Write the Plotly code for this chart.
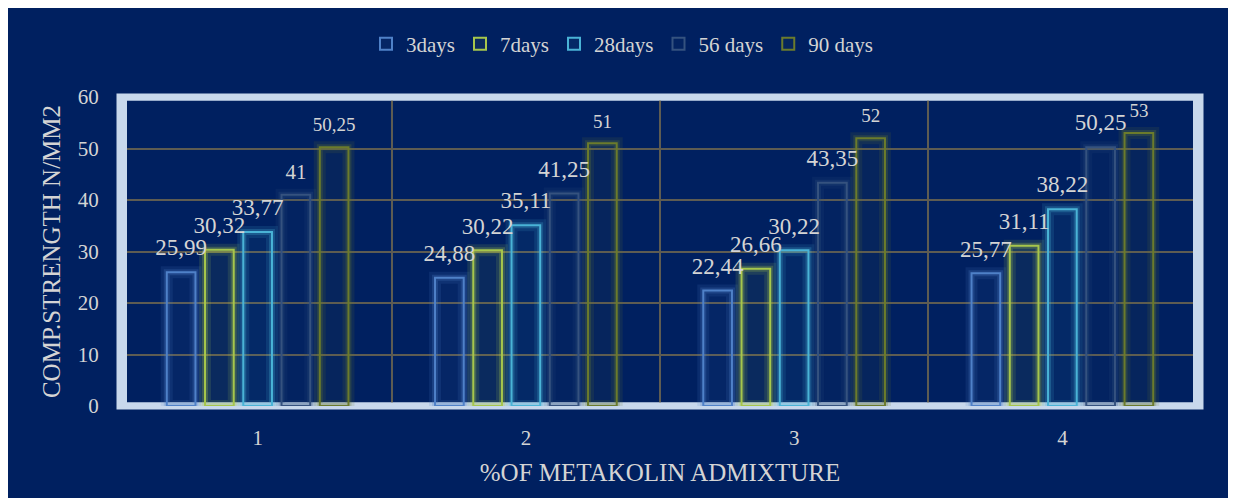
import plotly.graph_objects as go

categories = ["1", "2", "3", "4"]
series_names = ["3days", "7days", "28days", "56 days", "90 days"]
v3 = [25.99, 24.88, 22.44, 25.77]
v7 = [30.32, 30.22, 26.66, 31.11]
v28 = [33.77, 35.11, 30.22, 38.22]
v56 = [41, 41.25, 43.35, 50.25]
v90 = [50.25, 51, 52, 53]
series_values = [v3, v7, v28, v56, v90]
series_colors = ["#4f81c8", "#a6c64c", "#4ab3d6", "#35527f", "#6b7b2c"]
label_sizes = [[23, 23, 23, 23], [23, 23, 23, 23], [23, 23, 23, 23],
               [21, 23, 23, 23], [19, 19, 19, 19]]

BG = "#002060"
TXT = "#d4d4d4"
FONT = "Liberation Serif"
GRID = "#5e5c52"
BORDER = "#c8d8ec"

W, H = 1228, 490  # page adds an 8px body margin


def rgba(h, a):
    h = h.lstrip("#")
    r, g, b = int(h[0:2], 16), int(h[2:4], 16), int(h[4:6], 16)
    return f"rgba({r},{g},{b},{a})"


def fmt(v):
    s = f"{v:.2f}".rstrip("0").rstrip(".")
    return s.replace(".", ",")


fig = go.Figure()
for i, (name, vals, col) in enumerate(zip(series_names, series_values, series_colors)):
    og = f"g{i}"
    fig.add_trace(go.Bar(x=categories, y=vals, offsetgroup=og, showlegend=False,
                         hoverinfo="skip", cliponaxis=False,
                         marker=dict(color="rgba(0,0,0,0)",
                                     line=dict(color=rgba(col, 0.14), width=12))))
    fig.add_trace(go.Bar(x=categories, y=vals, offsetgroup=og, showlegend=False,
                         hoverinfo="skip", cliponaxis=False,
                         marker=dict(color="rgba(0,0,0,0)",
                                     line=dict(color=rgba(col, 0.25), width=6))))
    fig.add_trace(go.Bar(x=categories, y=vals, offsetgroup=og, name=name,
                         cliponaxis=False,
                         marker=dict(color=rgba(col, 0.06),
                                     line=dict(color=col, width=2))))
    fig.add_trace(go.Scatter(x=categories, y=vals, offsetgroup=og, showlegend=False,
                             mode="markers+text", hoverinfo="skip", cliponaxis=False,
                             text=[fmt(v) for v in vals], textposition="top center",
                             textfont=dict(family=FONT, color=TXT, size=label_sizes[i]),
                             marker=dict(size=16, color="rgba(0,0,0,0)")))

shapes = [
    # outer half of the frame (outside the plot area)
    dict(type="rect", xref="paper", yref="paper", x0=0, x1=1, y0=0, y1=1,
         line=dict(color=BORDER, width=7), fillcolor="rgba(0,0,0,0)", layer="below"),
    # inner half of the frame, above grid but below bars
    dict(type="rect", xref="x", yref="y", x0=-0.5, x1=len(categories) - 0.5, y0=0, y1=60,
         line=dict(color=BORDER, width=7), fillcolor="rgba(0,0,0,0)", layer="between"),
]

fig.update_layout(
    width=W, height=H,
    paper_bgcolor=BG, plot_bgcolor="rgba(0,0,0,0)",
    margin=dict(l=112, r=36, t=89, b=92),
    barmode="group", bargap=0.287, bargroupgap=0.25,
    scattermode="group", scattergap=0.287,
    font=dict(family=FONT, color=TXT),
    shapes=shapes,
    legend=dict(orientation="h", xref="container", yref="container",
                x=358 / W, y=1 - 36 / H, xanchor="left", yanchor="middle",
                font=dict(family=FONT, size=21, color=TXT),
                bgcolor="rgba(0,0,0,0)", itemwidth=30, traceorder="normal"),
    xaxis=dict(type="category", tickson="boundaries", showgrid=True, gridcolor=GRID,
               gridwidth=1.5, ticks="", ticklabelstandoff=17,
               tickfont=dict(family=FONT, size=21, color=TXT), showline=False,
               title=dict(text="%OF METAKOLIN ADMIXTURE", standoff=14,
                          font=dict(family=FONT, size=25, color=TXT))),
    yaxis=dict(range=[0, 60], dtick=10, showgrid=True, gridcolor=GRID, gridwidth=1.5,
               zeroline=False, ticks="outside", ticklen=16, tickcolor="rgba(0,0,0,0)",
               tickfont=dict(family=FONT, size=21, color=TXT), showline=False,
               title=dict(text="COMP.STRENGTH N/MM2", standoff=10,
                          font=dict(family=FONT, size=25, color=TXT))),
)

fig.write_html("out.html")
